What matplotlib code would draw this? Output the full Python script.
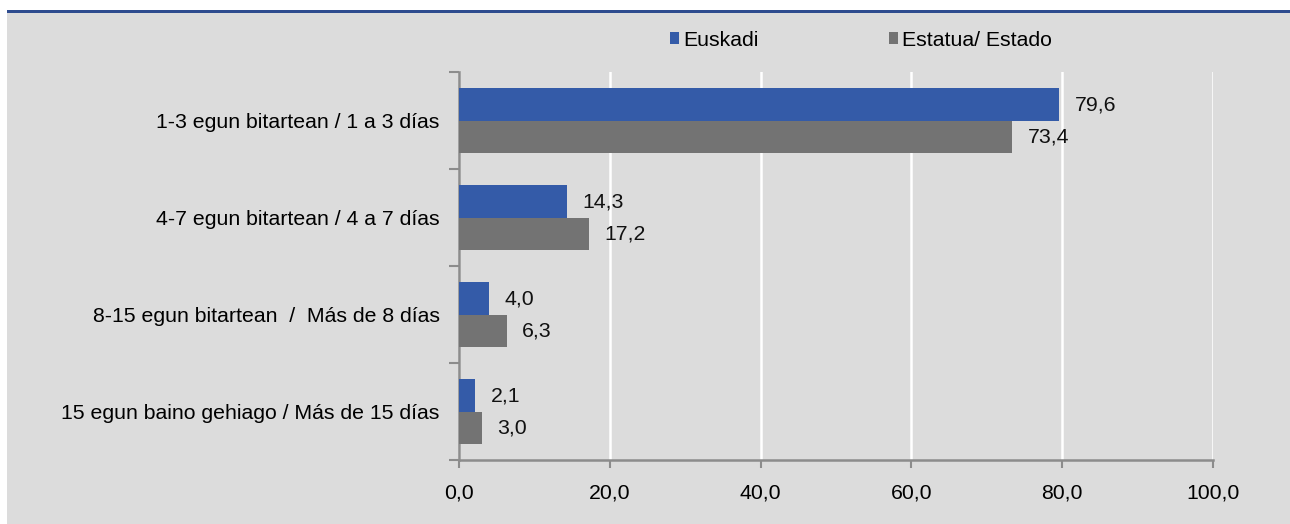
import numpy as np
import matplotlib
matplotlib.use("Agg")
import matplotlib.pyplot as plt
from matplotlib.patches import Rectangle, Patch

plt.rcParams['font.family'] = ['Liberation Sans', 'DejaVu Sans']

categories = ["1-3 egun bitartean / 1 a 3 días",
              "4-7 egun bitartean / 4 a 7 días",
              "8-15 egun bitartean  /  Más de 8 días",
              "15 egun baino gehiago / Más de 15 días"]
euskadi = [79.6, 14.3, 4.0, 2.1]
estado = [73.4, 17.2, 6.3, 3.0]
series_names = ["Euskadi", "Estatua/ Estado"]
xticks = [0, 20, 40, 60, 80, 100]

blue = "#345ba8"
grey = "#737373"
bg = "#dcdcdc"
axis_col = "#8c8c8c"

fig = plt.figure(figsize=(12.9, 5.24), dpi=100)
fig.patch.set_facecolor("white")
# grey panel + blue rule on top
fig.patches.append(Rectangle((7/1290, 0), 1 - 7/1290, 1 - 13/524,
                             transform=fig.transFigure, facecolor=bg,
                             edgecolor="none", zorder=-10))
fig.patches.append(Rectangle((7/1290, 1 - 13/524), 1 - 7/1290, 3/524,
                             transform=fig.transFigure, facecolor="#2e4c8f",
                             edgecolor="none", zorder=-10))

ax = fig.add_axes([459/1290, 1 - 460/524, (1213 - 459)/1290, (460 - 72)/524])
ax.set_facecolor(bg)

n = len(categories)
y = np.arange(n)
h = 0.33
ax.barh(y - h/2, euskadi, height=h, color=blue, zorder=3)
ax.barh(y + h/2, estado, height=h, color=grey, zorder=3)

fs = 15.3
for i in range(n):
    ax.text(euskadi[i] + 2.1, y[i] - h/2 + 0.01, f"{euskadi[i]:.1f}".replace(".", ","),
            va="center", ha="left", fontsize=fs, color="#111111")
    ax.text(estado[i] + 2.1, y[i] + h/2 + 0.01, f"{estado[i]:.1f}".replace(".", ","),
            va="center", ha="left", fontsize=fs, color="#111111")

ax.set_xlim(0, 100)
ax.set_ylim(n - 0.5, -0.5)
ax.set_xticks(xticks)
ax.set_xticklabels([f"{v:.1f}".replace(".", ",") for v in xticks], fontsize=fs)
ax.set_yticks(y)
ax.set_yticklabels(categories, fontsize=fs)
ax.set_yticks(np.arange(n + 1) - 0.5, minor=True)
ax.tick_params(axis="y", which="major", length=0, pad=14)
ax.tick_params(axis="y", which="minor", length=7, width=1.5, color=axis_col)
ax.tick_params(axis="x", length=6, width=1.5, color=axis_col, pad=11)

ax.grid(axis="x", color="white", linewidth=1.8, zorder=0)
ax.set_axisbelow(True)
for s in ["top", "right"]:
    ax.spines[s].set_visible(False)
for s in ["left", "bottom"]:
    ax.spines[s].set_color(axis_col)
    ax.spines[s].set_linewidth(1.8)

handles = [Patch(facecolor=blue), Patch(facecolor=grey)]
fig.legend(handles, series_names, loc="center", ncol=2,
           bbox_to_anchor=(861/1290, 1 - 40/524), frameon=False,
           fontsize=fs, handlelength=0.45, handleheight=0.55,
           handletextpad=0.2, columnspacing=6.1)

fig.savefig("out.png", dpi=100, facecolor=fig.get_facecolor())
